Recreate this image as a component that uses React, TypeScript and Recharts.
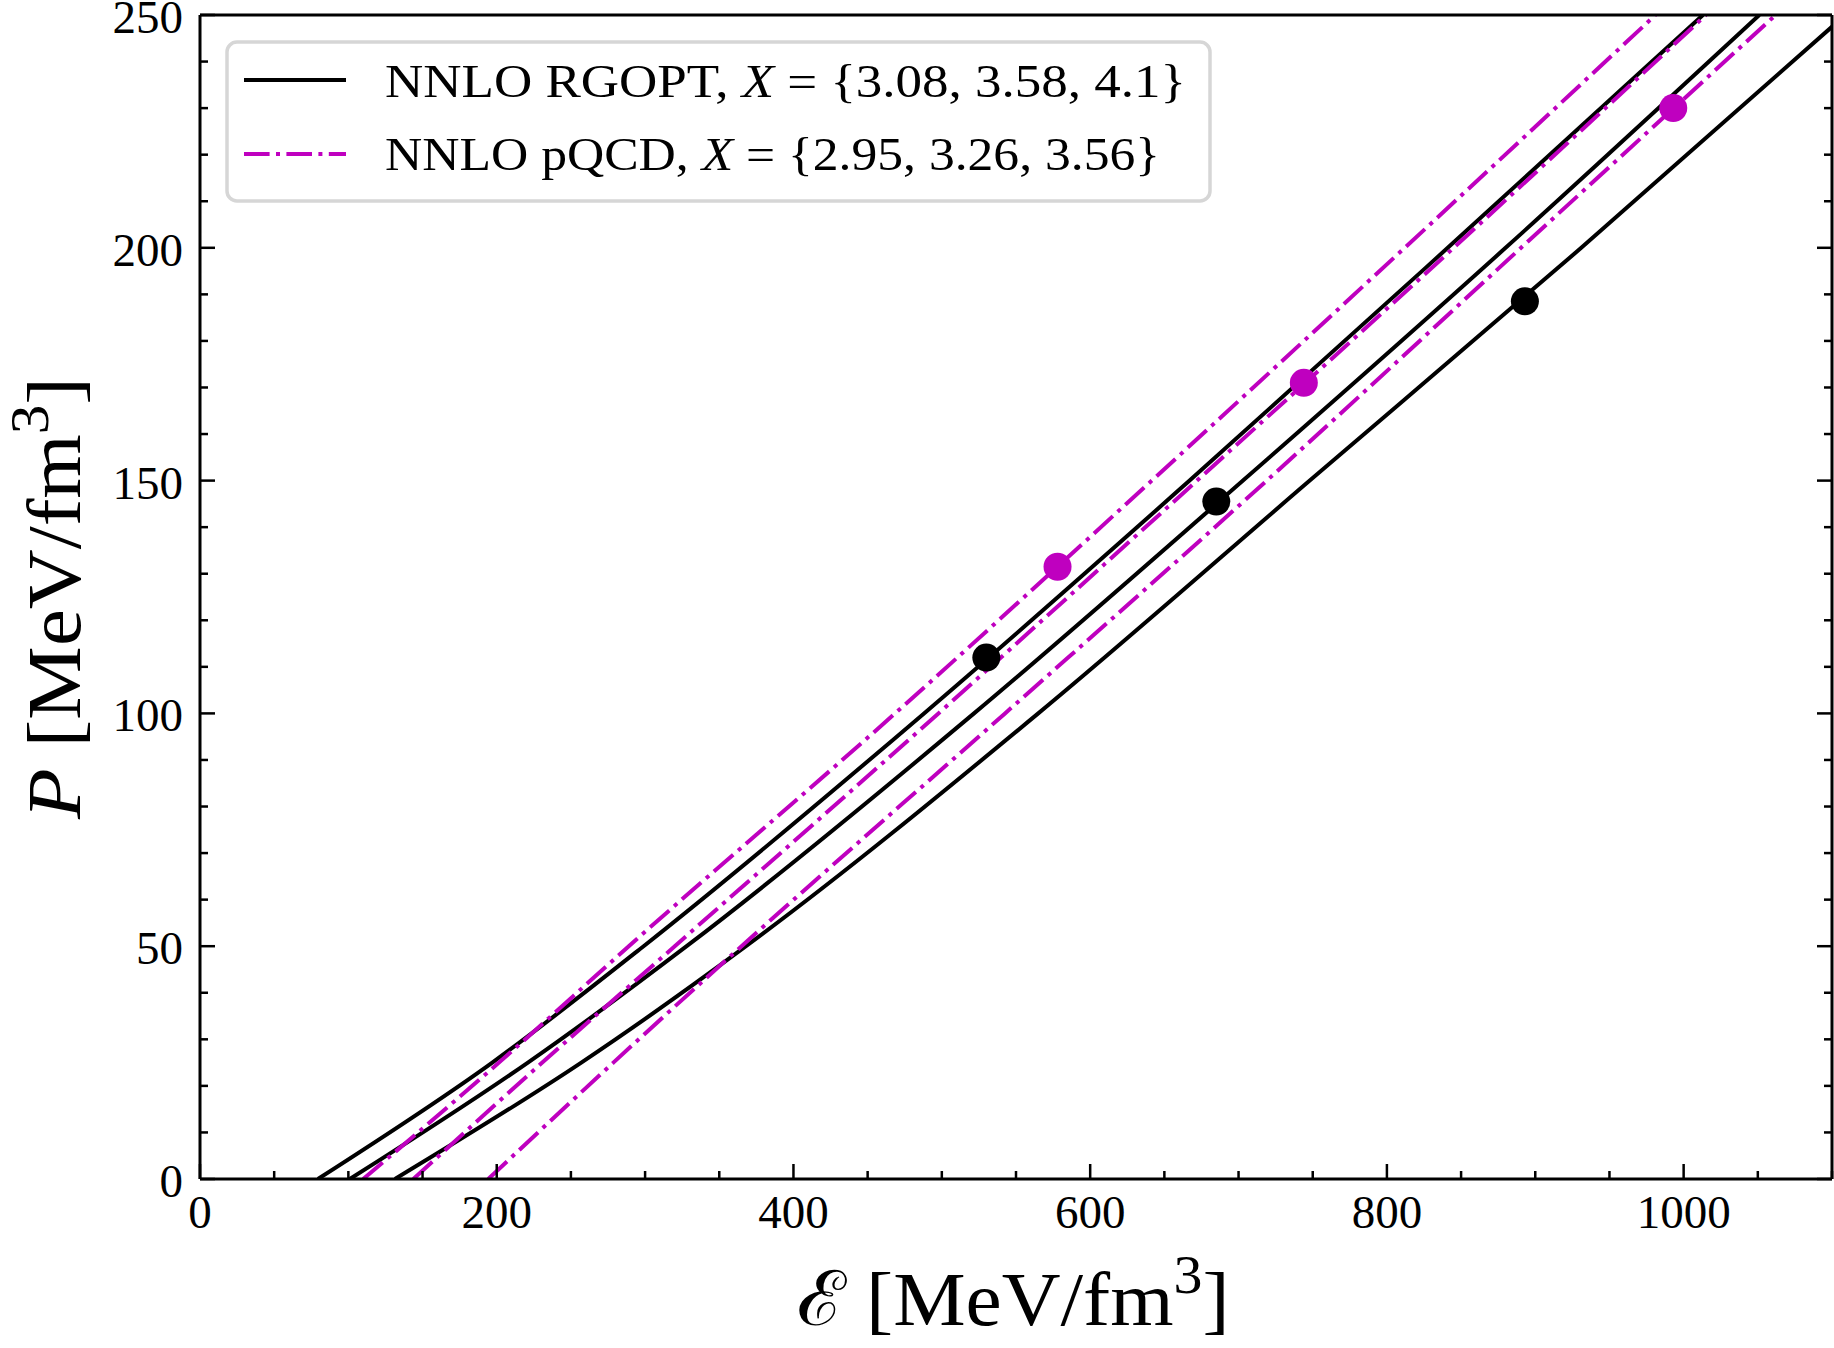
import React from 'react';
import { ComposedChart, Line, Scatter, XAxis, YAxis, Legend } from 'recharts';

const SERIF = "'Liberation Serif', 'DejaVu Serif', serif";
const MAGENTA = '#bf00bf';
const DASH_DOT = '25.6 6.4 4 6.4';

// pressure levels (MeV/fm^3) at which each EoS curve is sampled
const pressureLevels = [0, 25, 50, 100, 150, 200, 250];

// energy density (MeV/fm^3) reached at each pressure level
const rgoptLow = [79.5, 197, 299, 488, 667, 841, 1013];
const rgoptMid = [101, 221, 328, 521.7, 703, 880, 1051];
const rgoptHigh = [131.4, 257, 368, 565, 748, 931, 1109];
const pqcdLow = [110, 201.5, 289, 468.5, 641.5, 812, 981];
const pqcdMid = [143.8, 230.7, 320, 497.7, 672, 845, 1015];
const pqcdHigh = [194.3, 278.6, 365, 542.6, 719, 890.4, 1062];

// marked points, one on each curve
const rgoptDotE = [530, 685, 893];
const rgoptDotP = [112, 145.5, 188.5];
const pqcdDotE = [578, 744, 993];
const pqcdDotP = [131.5, 171, 230];

const legendNames = ['NNLO RGOPT', 'NNLO pQCD'];
const legendSets = ['{3.08, 3.58, 4.1}', '{2.95, 3.26, 3.56}'];

const xTicks = [0, 50, 100, 150, 200, 250, 300, 350, 400, 450, 500, 550, 600, 650, 700, 750, 800, 850, 900, 950, 1000, 1050, 1100];
const yTicks = [0, 10, 20, 30, 40, 50, 60, 70, 80, 90, 100, 110, 120, 130, 140, 150, 160, 170, 180, 190, 200, 210, 220, 230, 240, 250];

const toCurve = (es: number[]) => es.map((e, i) => ({ e, p: pressureLevels[i] }));
const toDots = (es: number[], ps: number[]) => es.map((e, i) => ({ e, p: ps[i] }));

const TICK_W = 2.5;

const BottomTick = ({ x, y, payload }: any) => {
  const v = payload.value;
  const major = v % 200 === 0;
  return (
    <g>
      <line x1={x} x2={x} y1={y} y2={y - (major ? 15 : 8)} stroke="#000" strokeWidth={TICK_W} />
      {major && (
        <text x={x} y={y + 49} textAnchor="middle" fontFamily={SERIF} fontSize={47} fill="#000">
          {v}
        </text>
      )}
    </g>
  );
};

const TopTick = ({ x, y, payload }: any) => {
  const major = payload.value % 200 === 0;
  return <line x1={x} x2={x} y1={y} y2={y + (major ? 15 : 8)} stroke="#000" strokeWidth={TICK_W} />;
};

const LeftTick = ({ x, y, payload }: any) => {
  const v = payload.value;
  const major = v % 50 === 0;
  return (
    <g>
      <line x1={x} x2={x + (major ? 15 : 8)} y1={y} y2={y} stroke="#000" strokeWidth={TICK_W} />
      {major && (
        <text x={x - 17} y={y + 18} textAnchor="end" fontFamily={SERIF} fontSize={47} fill="#000">
          {v}
        </text>
      )}
    </g>
  );
};

const RightTick = ({ x, y, payload }: any) => {
  const major = payload.value % 50 === 0;
  return <line x1={x} x2={x - (major ? 15 : 8)} y1={y} y2={y} stroke="#000" strokeWidth={TICK_W} />;
};

const xTitle = (props: any) => {
  const vb = props.viewBox ?? { x: 200, y: 1179, width: 1632, height: 169 };
  return (
    <text
      x={vb.x + 813}
      y={vb.y + 146}
      textAnchor="middle"
      fontFamily={SERIF}
      fontSize={76}
      textLength={433}
      lengthAdjust="spacingAndGlyphs"
      fill="#000"
    >
      <tspan>ℰ</tspan>
      <tspan> [MeV/fm</tspan>
      <tspan dy={-32} fontSize={54}>3</tspan>
      <tspan dy={32}>]</tspan>
    </text>
  );
};

const yTitle = (props: any) => {
  const vb = props.viewBox ?? { x: 0, y: 15, width: 200, height: 1164 };
  const cx = vb.x + 80;
  const cy = vb.y + vb.height / 2 + 1;
  return (
    <text
      transform={`translate(${cx},${cy}) rotate(-90)`}
      textAnchor="middle"
      fontFamily={SERIF}
      fontSize={76}
      textLength={442}
      lengthAdjust="spacingAndGlyphs"
      fill="#000"
    >
      <tspan fontStyle="italic">P</tspan>
      <tspan> [MeV/fm</tspan>
      <tspan dy={-32} fontSize={54}>3</tspan>
      <tspan dy={32}>]</tspan>
    </text>
  );
};

const LegendBox = () => (
  <svg width={987} height={163} style={{ display: 'block' }}>
    <rect x={2} y={2} width={983} height={159} rx={10} fill="#fff" stroke="#d6d6d6" strokeWidth={3.5} />
    {legendNames.map((name, i) => {
      const lineY = i === 0 ? 40 : 114;
      const textY = i === 0 ? 57 : 130;
      return (
        <g key={name}>
          <line
            x1={19}
            x2={121}
            y1={lineY}
            y2={lineY}
            stroke={i === 0 ? '#000' : MAGENTA}
            strokeWidth={4}
            strokeDasharray={i === 0 ? undefined : DASH_DOT}
          />
          <text
            x={160}
            y={textY}
            fontFamily={SERIF}
            fontSize={46}
            fill="#000"
            textLength={i === 0 ? 801 : 775}
            lengthAdjust="spacingAndGlyphs"
          >
            <tspan>{name}, </tspan>
            <tspan fontStyle="italic">X</tspan>
            <tspan> = {legendSets[i]}</tspan>
          </text>
        </g>
      );
    })}
  </svg>
);

const Dot = (props: any) => <circle cx={props.cx} cy={props.cy} r={14} fill={props.fill} />;

export default function App() {
  return (
    <div style={{ position: 'absolute', left: 0, top: 0, width: 1834, height: 1348, overflow: 'hidden', background: '#fff' }}>
      <ComposedChart width={1834} height={1348} margin={{ top: 0, right: 0, bottom: 0, left: 0 }}>
        <XAxis
          dataKey="e"
          type="number"
          domain={[0, 1100]}
          ticks={xTicks}
          interval={0}
          allowDataOverflow
          height={169}
          tickSize={0}
          tickMargin={0}
          tick={<BottomTick />}
          axisLine={{ stroke: '#000', strokeWidth: 3 }}
          label={xTitle}
        />
        <XAxis
          xAxisId="top"
          orientation="top"
          type="number"
          domain={[0, 1100]}
          ticks={xTicks}
          interval={0}
          allowDataOverflow
          height={15}
          tickSize={0}
          tickMargin={0}
          tick={<TopTick />}
          axisLine={{ stroke: '#000', strokeWidth: 3 }}
        />
        <YAxis
          dataKey="p"
          type="number"
          domain={[0, 250]}
          ticks={yTicks}
          interval={0}
          allowDataOverflow
          width={200}
          tickSize={0}
          tickMargin={0}
          tick={<LeftTick />}
          axisLine={{ stroke: '#000', strokeWidth: 3 }}
          label={yTitle}
        />
        <YAxis
          yAxisId="right"
          orientation="right"
          type="number"
          domain={[0, 250]}
          ticks={yTicks}
          interval={0}
          allowDataOverflow
          width={2}
          tickSize={0}
          tickMargin={0}
          tick={<RightTick />}
          axisLine={{ stroke: '#000', strokeWidth: 3 }}
        />
        <Legend
          layout="vertical"
          align="center"
          verticalAlign="middle"
          content={() => <LegendBox />}
          wrapperStyle={{ left: 224.7, top: 40, width: 987, height: 163 }}
        />

        {[rgoptLow, rgoptMid, rgoptHigh].map((es, i) => (
          <Line
            key={`rgopt-${i}`}
            data={toCurve(es)}
            dataKey="p"
            type="monotone"
            stroke="#000"
            strokeWidth={4}
            dot={false}
            activeDot={false}
            isAnimationActive={false}
          />
        ))}
        {[pqcdLow, pqcdMid, pqcdHigh].map((es, i) => (
          <Line
            key={`pqcd-${i}`}
            data={toCurve(es)}
            dataKey="p"
            type="monotone"
            stroke={MAGENTA}
            strokeWidth={4}
            strokeDasharray={DASH_DOT}
            dot={false}
            activeDot={false}
            isAnimationActive={false}
          />
        ))}
        <Scatter data={toDots(rgoptDotE, rgoptDotP)} dataKey="p" fill="#000" shape={Dot} isAnimationActive={false} />
        <Scatter data={toDots(pqcdDotE, pqcdDotP)} dataKey="p" fill={MAGENTA} shape={Dot} isAnimationActive={false} />
      </ComposedChart>
    </div>
  );
}
